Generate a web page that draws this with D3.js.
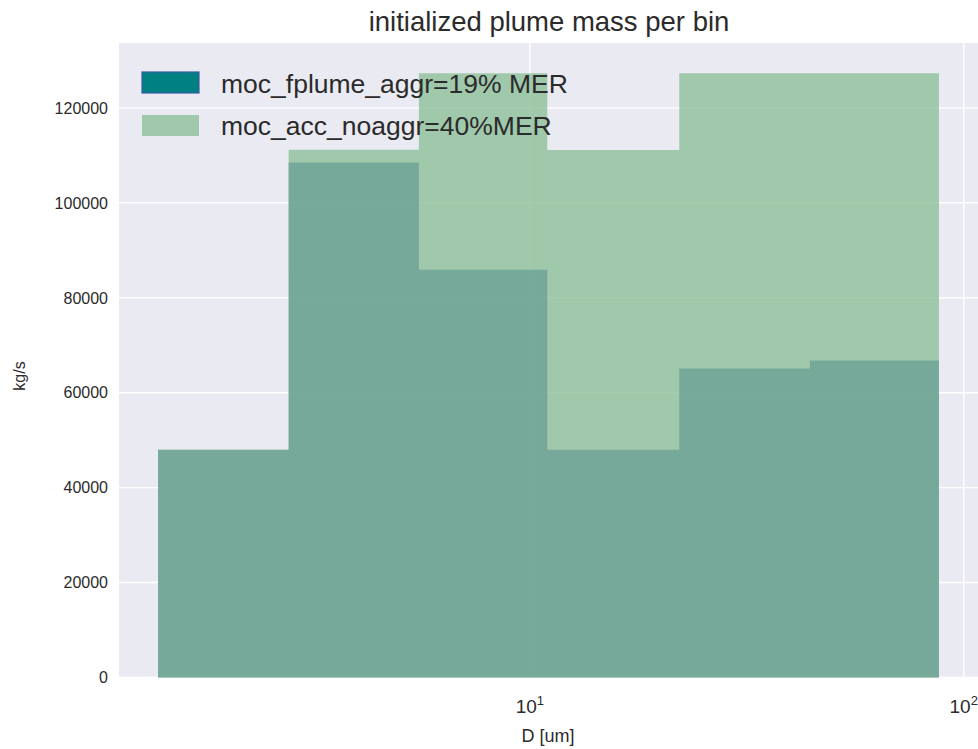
<!DOCTYPE html>
<html>
<head>
<meta charset="utf-8">
<script src="https://cdn.jsdelivr.net/npm/d3@7"></script>
<style>
  body { margin: 0; background: #ffffff; }
  svg { display: block; }
  text { font-family: "Liberation Sans", Arial, sans-serif; fill: #2b2b2b; }
</style>
</head>
<body>
<svg id="chart" width="978" height="749"></svg>
<script>
// Particle-size bin edges (µm) and mass per bin (kg/s) for the two runs
const binEdges = [1.39, 2.78, 5.55, 10.97, 22.1, 44.2, 87.7];
const aggrMass = [48000, 108500, 85900, 48000, 65100, 66800];
const noaggrMass = [48000, 111200, 127300, 111100, 127300, 127300];
const seriesNames = ["moc_fplume_aggr=19% MER", "moc_acc_noaggr=40%MER"];
const yTicks = [0, 20000, 40000, 60000, 80000, 100000, 120000];
const xTicks = [10, 100];
const xTickExponents = ["1", "2"];

const svg = d3.select("#chart");
const plot = { left: 119, right: 978, top: 43, bottom: 677.5 };

// log-x axis padded by 5% of the decade span, y padded 5% above the max
const lo = Math.log10(d3.min(binEdges)), hi = Math.log10(d3.max(binEdges));
const pad = 0.05 * (hi - lo);
const x = d3.scaleLog()
  .domain([Math.pow(10, lo - pad), Math.pow(10, hi + pad)])
  .range([plot.left, plot.right]);
const yMax = d3.max(noaggrMass.concat(aggrMass)) * 1.05;
const y = d3.scaleLinear().domain([0, yMax]).range([plot.bottom, plot.top]);

// background
svg.append("rect")
  .attr("x", plot.left).attr("y", plot.top)
  .attr("width", plot.right - plot.left).attr("height", plot.bottom - plot.top)
  .attr("fill", "#eaeaf2");

// grid
const grid = svg.append("g").attr("stroke", "#ffffff").attr("stroke-width", 1.4);
grid.selectAll("line.h").data(yTicks).join("line")
  .attr("x1", plot.left).attr("x2", plot.right)
  .attr("y1", d => y(d)).attr("y2", d => y(d));
grid.selectAll("line.v").data(xTicks).join("line")
  .attr("x1", d => x(d)).attr("x2", d => x(d))
  .attr("y1", plot.top).attr("y2", plot.bottom);

// histogram bars (one path per series so adjacent bins don't leave seams)
function drawBars(values, fill, opacity) {
  const path = d3.path();
  values.forEach((d, i) => {
    const x0 = x(binEdges[i]), x1 = x(binEdges[i + 1]);
    path.rect(x0, y(d), x1 - x0, y(0) - y(d));
  });
  svg.append("path")
    .attr("d", path.toString())
    .attr("fill", fill)
    .attr("fill-opacity", opacity)
    .attr("fill-rule", "nonzero");
}
drawBars(noaggrMass, "#8dbf99", 0.8);
drawBars(aggrMass, "#6ba196", 0.8);

// y tick labels
svg.append("g").selectAll("text").data(yTicks).join("text")
  .attr("x", plot.left - 11).attr("y", d => y(d))
  .attr("dy", "0.36em")
  .attr("text-anchor", "end")
  .attr("font-size", 16)
  .text(d => d);

// x tick labels as powers of ten
const xt = svg.append("g").selectAll("text").data(xTicks).join("text")
  .attr("x", d => x(d)).attr("y", 713)
  .attr("text-anchor", "middle")
  .attr("font-size", 19);
xt.append("tspan").text("10");
xt.append("tspan").attr("font-size", 13).attr("dy", -8).text((d, i) => xTickExponents[i]);

// axis labels and title
svg.append("text").attr("x", 548).attr("y", 742)
  .attr("text-anchor", "middle").attr("font-size", 18).text("D [um]");
svg.append("text").attr("transform", "translate(25,376) rotate(-90)")
  .attr("text-anchor", "middle").attr("font-size", 16).text("kg/s");
svg.append("text").attr("x", 549).attr("y", 31)
  .attr("text-anchor", "middle").attr("font-size", 27.5).text("initialized plume mass per bin");

// legend
const legend = svg.append("g");
const legendItems = [
  { name: seriesNames[0], fill: "#008080", stroke: "#3c5aa0" },
  { name: seriesNames[1], fill: "#a0c8aa", stroke: "none" }
];
legendItems.forEach((it, i) => {
  legend.append("rect")
    .attr("x", 142).attr("y", 72 + i * 43).attr("width", 57).attr("height", 21)
    .attr("fill", it.fill).attr("stroke", it.stroke).attr("stroke-width", 1.2);
  legend.append("text")
    .attr("x", 221).attr("y", 93 + i * 42)
    .attr("font-size", 26.5).text(it.name);
});
</script>
</body>
</html>
